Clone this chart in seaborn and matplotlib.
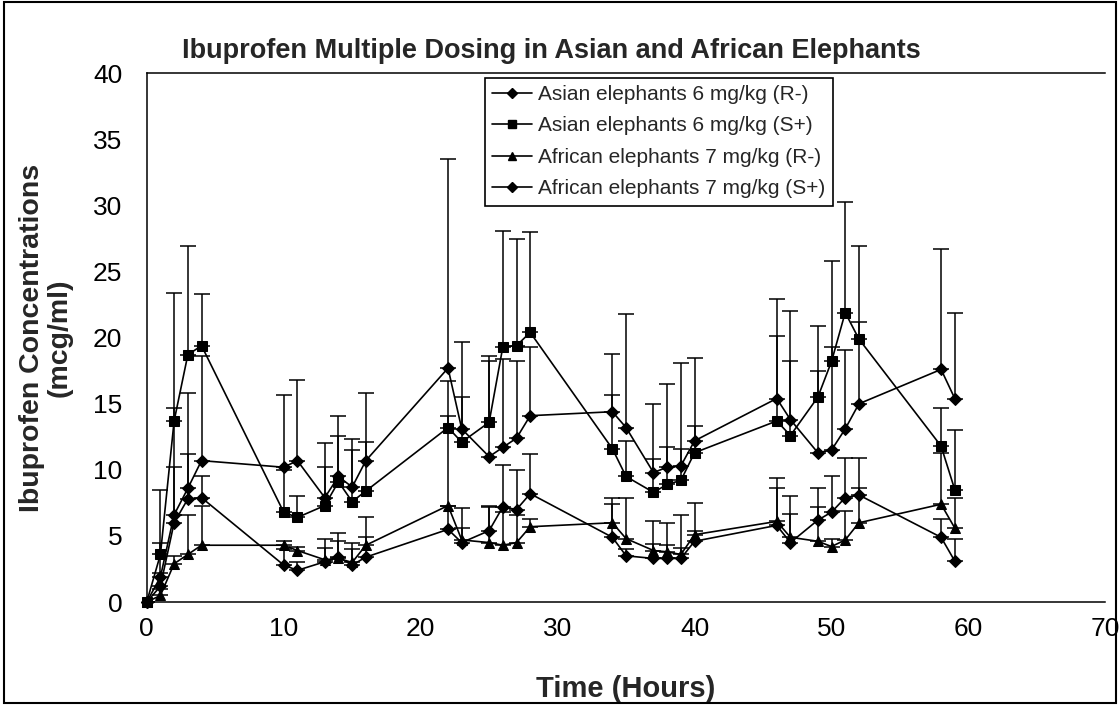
import numpy as np
import pandas as pd
import matplotlib
matplotlib.use("Agg")
import matplotlib.pyplot as plt
import matplotlib.patches as mpatches
import seaborn as sns

# ---------------- data ----------------
time_h = [0, 1, 2, 3, 4, 10, 11, 13, 14, 15, 16, 22, 23, 25, 26, 27, 28,
          34, 35, 37, 38, 39, 40, 46, 47, 49, 50, 51, 52, 58, 59]

asian_r = [0, 1.9, 6.6, 8.6, 10.7, 10.2, 10.7, 7.9, 9.5, 8.7, 10.7, 17.7, 13.1, 11.0, 11.7, 12.4, 14.1,
           14.4, 13.2, 9.8, 10.2, 10.3, 12.2, 15.4, 13.8, 11.3, 11.5, 13.1, 15.0, 17.6, 15.4]
asian_r_top = [0, 4.5, 14.7, 15.8, 18.6, 15.7, 16.8, 12.0, 14.1, 12.3, 15.8, 33.5, 19.7, 18.2, 18.4, 18.2, 19.3,
               18.8, 21.8, 15.0, 16.5, 18.1, 18.5, 22.9, 22.0, 17.5, 19.3, 19.1, 21.2, 26.7, 21.9]

asian_s = [0, 3.6, 13.7, 18.7, 19.4, 6.8, 6.4, 7.3, 9.1, 7.6, 8.4, 13.2, 12.1, 13.6, 19.3, 19.4, 20.4,
           11.6, 9.5, 8.3, 8.9, 9.2, 11.3, 13.7, 12.6, 15.5, 18.2, 21.9, 19.9, 11.8, 8.5]
asian_s_top = [0, 8.5, 23.4, 26.9, 23.3, 10.0, 8.0, 10.2, 12.6, 11.5, 12.1, 16.7, 15.5, 18.6, 28.1, 27.5, 28.0,
               15.7, 12.2, 10.8, 11.7, 11.6, 13.3, 20.1, 18.2, 20.9, 25.8, 30.3, 26.9, 14.7, 13.0]

african_r = [0, 0.5, 2.9, 3.6, 4.3, 4.3, 3.9, 3.2, 3.3, 3.0, 4.3, 7.3, 4.7, 4.5, 4.3, 4.5, 5.7,
             6.0, 4.8, 3.9, 3.8, 3.6, 5.1, 6.1, 4.9, 4.6, 4.2, 4.7, 6.0, 7.4, 5.6]
african_r_top = [0, 1.0, 3.5, 6.6, 7.3, 4.6, 4.2, 4.8, 5.2, 4.5, 6.4, 14.1, 5.6, 7.2, 6.8, 6.6, 6.3,
                 7.9, 7.9, 6.1, 6.0, 6.6, 7.5, 9.4, 8.0, 7.2, 4.8, 6.9, 8.6, 11.3, 7.9]

african_s = [0, 1.2, 6.0, 7.8, 7.9, 2.8, 2.4, 3.05, 3.4, 2.8, 3.4, 5.5, 4.5, 5.4, 7.2, 7.0, 8.2,
             4.9, 3.5, 3.3, 3.3, 3.3, 4.6, 5.8, 4.5, 6.2, 6.8, 7.9, 8.1, 4.9, 3.1]
african_s_top = [0, 2.2, 10.2, 11.2, 9.5, 4.0, 3.0, 4.1, 4.6, 4.0, 4.9, 7.3, 7.1, 7.3, 10.4, 10.0, 11.2,
                 7.4, 4.0, 4.4, 4.3, 4.1, 5.4, 8.6, 6.7, 8.6, 9.5, 10.9, 10.9, 6.3, 4.8]

labels = ["Asian elephants 6 mg/kg (R-)", "Asian elephants 6 mg/kg (S+)",
          "African elephants 7 mg/kg (R-)", "African elephants 7 mg/kg (S+)"]
title = "Ibuprofen Multiple Dosing in Asian and African Elephants"
xlabel = "Time (Hours)"
ylabel = "Ibuprofen Concentrations\n(mcg/ml)"

# ---------------- style ----------------
sns.set_theme(style="white")
plt.rcParams["font.family"] = ["Liberation Sans", "DejaVu Sans"]

series_vals = [asian_r, asian_s, african_r, african_s]
series_top = [asian_r_top, asian_s_top, african_r_top, african_s_top]
marker_map = {labels[0]: "D", labels[1]: "s", labels[2]: "^", labels[3]: "D"}
size_map = {labels[0]: 6.5, labels[1]: 7, labels[2]: 7.5, labels[3]: 6.5}

frames = []
for lab, vals in zip(labels, series_vals):
    frames.append(pd.DataFrame({"time": time_h, "conc": vals, "series": lab}))
df = pd.concat(frames, ignore_index=True)

fig = plt.figure(figsize=(11.2, 7.05), dpi=100)
ax = fig.add_axes([0.131, 0.146, 0.856, 0.750])

sns.lineplot(data=df, x="time", y="conc", hue="series", style="series",
             hue_order=labels, style_order=labels,
             palette=["black"] * 4, markers=marker_map, dashes=False,
             linewidth=1.2, markersize=7, markeredgecolor="black",
             ax=ax, legend=False, clip_on=False, zorder=3)

for line, lab in zip(ax.get_lines(), labels):
    line.set_markersize(size_map[lab])

# upper-only error bars
for vals, top in zip(series_vals, series_top):
    v = np.array(vals, dtype=float)
    t = np.array(top, dtype=float)
    up = np.clip(t - v, 0, None)
    ax.errorbar(time_h, v, yerr=[np.zeros_like(v), up], fmt="none",
                ecolor="black", elinewidth=1.1, capsize=6, capthick=1.1, zorder=2)

ax.set_xlim(0, 70)
ax.set_ylim(0, 40)
ax.set_xticks(range(0, 71, 10))
ax.set_yticks(range(0, 41, 5))
ax.tick_params(axis="both", direction="out", length=6.5, width=1.1,
               labelsize=19, colors="black", pad=4)
ax.tick_params(axis="y", pad=11)
for side in ["left", "bottom", "top", "right"]:
    ax.spines[side].set_visible(True)
    ax.spines[side].set_color("black")
    ax.spines[side].set_linewidth(1.1)
ax.spines["right"].set_visible(False)

fig.text(0.492, 0.928, title, fontsize=19.5, fontweight="bold", ha="center", va="center")
ax.set_xlabel(xlabel, fontsize=21, fontweight="bold", labelpad=25)
ax.set_ylabel(ylabel, fontsize=20.5, fontweight="bold", labelpad=15, linespacing=1.05)

# legend
handles = []
for lab in labels:
    h = plt.Line2D([], [], color="black", marker=marker_map[lab], linewidth=1.2,
                   markersize=size_map[lab] * 0.75, markeredgecolor="black")
    handles.append(h)
leg = ax.legend(handles, labels, loc="upper left", bbox_to_anchor=(0.353, 0.992),
                borderaxespad=0, fontsize=15, frameon=True, fancybox=False,
                edgecolor="black", framealpha=1, handlelength=1.9,
                handletextpad=0.3, labelspacing=0.6, borderpad=0.35)
leg.get_frame().set_linewidth(1.2)

# figure border
fig.patches.append(mpatches.Rectangle((0.004, 0.003), 0.992, 0.994, transform=fig.transFigure,
                                      fill=False, edgecolor="black", linewidth=1.5))

fig.savefig("out.png", dpi=100, facecolor="white")
